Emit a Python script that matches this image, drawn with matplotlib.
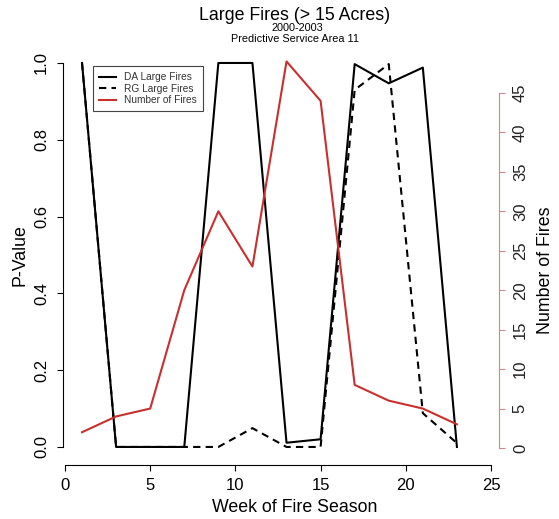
import matplotlib.pyplot as plt

plt.rcParams['font.family'] = ['Liberation Sans', 'DejaVu Sans']

weeks = [1, 3, 5, 7, 9, 11, 13, 15, 17, 19, 21, 23]
da_pval = [1.0, 0.0, 0.0, 0.0, 1.0, 1.0, 0.011, 0.02, 0.997, 0.947, 0.988, 0.0]
rg_pval = [1.0, 0.0, 0.0, 0.0, 0.0, 0.049, 0.0, 0.0, 0.93, 0.997, 0.088, 0.01]
n_fires = [2, 4, 5, 20, 30, 23, 49, 44, 8, 6, 5, 3]

red = '#c8302e'
W, H = 559, 519

fig = plt.figure(figsize=(W / 100, H / 100), dpi=100)
ax = fig.add_axes([63 / W, 1 - 465 / H, (499 - 63) / W, (465 - 48) / H])

l1, = ax.plot(weeks, da_pval, color='black', lw=1.5, label='DA Large Fires')
l2, = ax.plot(weeks, rg_pval, color='black', lw=1.5, dashes=(3.5, 2.5), label='RG Large Fires')
ax.set_xlim(-0.117, 25.47)
ax.set_ylim(-0.047, 1.039)

ax2 = ax.twinx()
l3, = ax2.plot(weeks, n_fires, color=red, lw=1.5, label='Number of Fires')
ax2.set_ylim(-2.155, 50.7)

for s in ['top', 'right']:
    ax.spines[s].set_visible(False)
for s in ['top', 'left', 'bottom']:
    ax2.spines[s].set_visible(False)
ax.spines['left'].set_bounds(0, 1)
ax.spines['bottom'].set_bounds(0, 25)
ax2.spines['right'].set_bounds(0, 45)
ax2.spines['right'].set_color('#c98a8a')
for sp in [ax.spines['left'], ax.spines['bottom'], ax2.spines['right']]:
    sp.set_linewidth(0.8)

ax.set_xticks([0, 5, 10, 15, 20, 25])
ax.set_yticks([0, 0.2, 0.4, 0.6, 0.8, 1.0])
ax.set_yticklabels(['0.0', '0.2', '0.4', '0.6', '0.8', '1.0'])
ax2.set_yticks(range(0, 50, 5))

ax.tick_params(axis='both', direction='out', length=4.5, width=0.8, labelsize=12, colors='black')
ax.tick_params(axis='x', pad=5)
ax.tick_params(axis='y', pad=5.5)
ax2.tick_params(axis='y', direction='out', length=4.5, width=0.8, labelsize=12,
                color='#c98a8a', labelcolor='#222222', pad=5.5)

for lab in ax.get_yticklabels():
    lab.set_rotation(90)
    lab.set_va('center')
    lab.set_ha('right')
for lab in ax2.get_yticklabels():
    lab.set_rotation(90)
    lab.set_va('center')
    lab.set_ha('left')

fig.text(295 / W, 1 - 16 / H, 'Large Fires (> 15 Acres)', ha='center', va='center', fontsize=12.8)
fig.text(297 / W, 1 - 28.5 / H, '2000-2003', ha='center', va='center', fontsize=7.8)
fig.text(295 / W, 1 - 39 / H, 'Predictive Service Area 11', ha='center', va='center', fontsize=7.8)
fig.text(295 / W, 1 - 507 / H, 'Week of Fire Season', ha='center', va='center', fontsize=12.8)
fig.text(20 / W, 1 - 255 / H, 'P-Value', ha='center', va='center', rotation=90, fontsize=12.8)
fig.text(545 / W, 1 - 270 / H, 'Number of Fires', ha='center', va='center', rotation=90, fontsize=12.8)

leg = ax.legend(handles=[l1, l2, l3], loc='upper left', bbox_to_anchor=(93 / W, 1 - 66 / H),
                bbox_transform=fig.transFigure, borderaxespad=0, fontsize=7.3,
                frameon=True, fancybox=False, handlelength=1.7, handletextpad=0.8,
                labelspacing=0.15, borderpad=0.6, framealpha=1)
leg.get_frame().set_edgecolor('#444444')
leg.get_frame().set_linewidth(0.8)
leg.set_zorder(5)
for t in leg.get_texts():
    t.set_color('#333333')

fig.savefig('out.png', dpi=100)
